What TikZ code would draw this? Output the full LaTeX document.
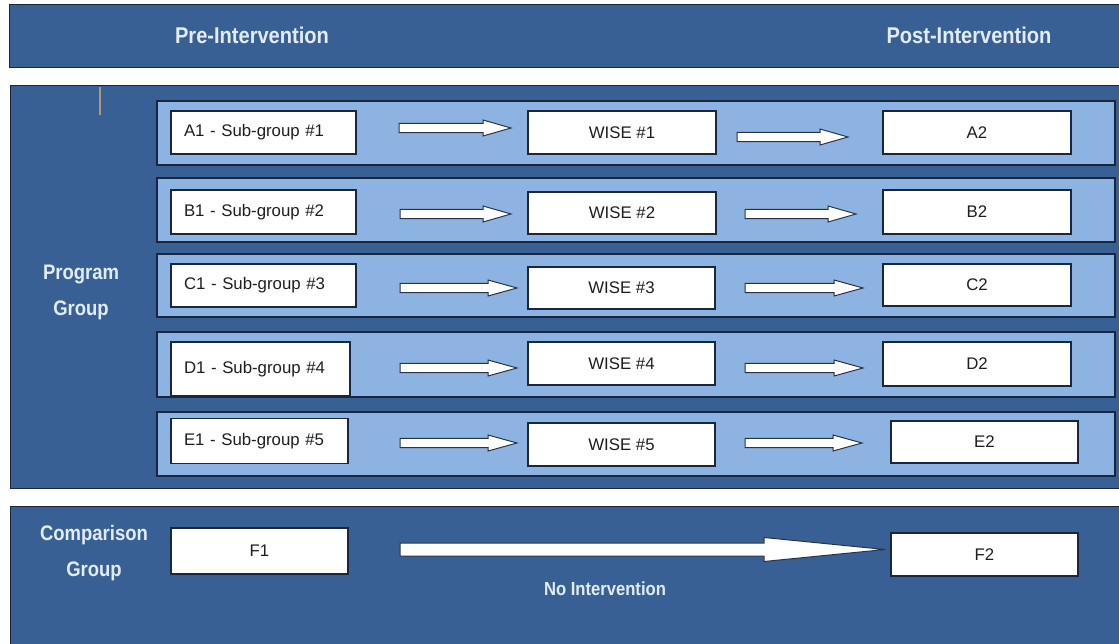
\documentclass[tikz,border=0pt]{standalone}
\usepackage{fontspec}
\setmainfont{Liberation Sans}
\newfontfamily\headfont[FakeStretch=0.88]{Liberation Sans}
\usetikzlibrary{calc}

\definecolor{panelblue}{RGB}{57,96,148}
\definecolor{bandblue}{RGB}{141,179,226}
\definecolor{edgenavy}{RGB}{24,38,62}
\definecolor{headtext}{RGB}{226,236,246}
\definecolor{boxtext}{RGB}{30,30,30}
\definecolor{ticktan}{RGB}{172,152,122}

\tikzset{
  panel/.style={fill=panelblue, draw=edgenavy, line width=1pt},
  band/.style={fill=bandblue, draw=edgenavy, line width=1.2pt},
  wbox/.style={draw=edgenavy, fill=white, line width=1.3pt, text=boxtext,
    inner xsep=13pt, inner ysep=0pt,
    font=\fontsize{16.8}{20}\selectfont},
  lefttext/.style={align=left, text width=#1},
  heading/.style={text=headtext, font=\headfont\bfseries\fontsize{22.8}{26}\selectfont},
  sidelabel/.style={text=headtext, align=center,
    font=\headfont\bfseries\fontsize{21}{36}\selectfont},
  notelabel/.style={text=headtext, font=\headfont\bfseries\fontsize{18.9}{22}\selectfont},
  arrowline/.style={fill=white, draw=edgenavy!85!gray, line width=1pt, line join=miter},
}

% hollow block arrow: start coordinate, tip coordinate,
% half shaft width, half head width, head length (all in pt)
\newcommand\blockarrow[5]{%
  \draw[arrowline] let \p1=(#1), \p2=(#2) in
    (\x1,\y1-#3pt) -- (\x2-#5pt,\y1-#3pt) -- (\x2-#5pt,\y1-#4pt) -- (\x2,\y1)
    -- (\x2-#5pt,\y1+#4pt) -- (\x2-#5pt,\y1+#3pt) -- (\x1,\y1+#3pt) -- cycle;}

\begin{document}
\begin{tikzpicture}[x=1pt, y=-1pt]
\useasboundingbox (0,0) rectangle (1119,644);
\fill[white] (0,0) rectangle (1119,644);

% header bar and the two group panels
\draw[panel] (9,5) rectangle (1125,68);
\draw[panel] (10,86) rectangle (1125,488);
\draw[panel] (10,506) rectangle (1125,650);

\node[heading] (pre) at (252,35) {Pre-Intervention};
\node[heading] (post) at (969,35) {Post-Intervention};

\draw[ticktan, line width=2pt] (100,87) -- (100,115);

% sub-group bands
\draw[band] (157,101) rectangle (1115,165);
\draw[band] (157,178) rectangle (1115,242);
\draw[band] (157,254) rectangle (1115,317);
\draw[band] (157,332) rectangle (1115,397);
\draw[band] (157,412) rectangle (1115,476);

\node[sidelabel] (prog) at (81,292) {Program\\Group};
\node[sidelabel] (comp) at (94,553) {Comparison\\Group};

% pre-intervention boxes
\node[wbox, minimum width=185pt, minimum height=43pt, lefttext=159pt] (A1) at (263.5,132.5) {A1 - Sub-group \#1};
\node[wbox, minimum width=185pt, minimum height=44pt, lefttext=159pt] (B1) at (263.5,212) {B1 - Sub-group \#2};
\node[wbox, minimum width=185pt, minimum height=43pt, lefttext=159pt] (C1) at (263.5,285.5) {C1 - Sub-group \#3};
\node[wbox, minimum width=179pt, minimum height=54pt, lefttext=153pt] (D1) at (260.5,369) {D1 - Sub-group \#4};
\node[wbox, minimum width=177pt, minimum height=45pt, lefttext=151pt] (E1) at (259.5,441) {E1 - Sub-group \#5};
\node[wbox, minimum width=177pt, minimum height=46pt] (F1) at (259.5,551) {F1};

% intervention boxes
\node[wbox, minimum width=188pt, minimum height=43pt] (W1) at (622,132.5) {WISE \#1};
\node[wbox, minimum width=188pt, minimum height=42pt] (W2) at (622,213) {WISE \#2};
\node[wbox, minimum width=187pt, minimum height=42pt] (W3) at (621.5,288) {WISE \#3};
\node[wbox, minimum width=187pt, minimum height=43pt] (W4) at (621.5,363.5) {WISE \#4};
\node[wbox, minimum width=187pt, minimum height=43pt] (W5) at (621.5,444.5) {WISE \#5};

% post-intervention boxes
\node[wbox, minimum width=188pt, minimum height=43pt] (A2) at (977,132.5) {A2};
\node[wbox, minimum width=188pt, minimum height=44pt] (B2) at (977,212) {B2};
\node[wbox, minimum width=188pt, minimum height=42pt] (C2) at (977,285) {C2};
\node[wbox, minimum width=188pt, minimum height=44pt] (D2) at (977,364) {D2};
\node[wbox, minimum width=187pt, minimum height=42pt] (E2) at (984.5,442) {E2};
\node[wbox, minimum width=187pt, minimum height=43pt] (F2) at (984.5,554.5) {F2};

% arrow end points
\coordinate (a1s) at (399,128);  \coordinate (a1e) at (511,128);
\coordinate (a2s) at (737,137);  \coordinate (a2e) at (848,137);
\coordinate (b1s) at (400,214);  \coordinate (b1e) at (511,214);
\coordinate (b2s) at (745,214);  \coordinate (b2e) at (856,214);
\coordinate (c1s) at (400,288);  \coordinate (c1e) at (517,288);
\coordinate (c2s) at (745,288);  \coordinate (c2e) at (863,288);
\coordinate (d1s) at (400,368);  \coordinate (d1e) at (517,368);
\coordinate (d2s) at (745,368);  \coordinate (d2e) at (863,368);
\coordinate (e1s) at (400,443);  \coordinate (e1e) at (517,443);
\coordinate (e2s) at (745,443);  \coordinate (e2e) at (862,443);
\coordinate (fs) at (400,549.5); \coordinate (fe) at (885,549.5);

\blockarrow{a1s}{a1e}{4.7}{8}{28}
\blockarrow{a2s}{a2e}{4.7}{8}{28}
\blockarrow{b1s}{b1e}{4.7}{8}{28}
\blockarrow{b2s}{b2e}{4.7}{8}{28}
\blockarrow{c1s}{c1e}{4.7}{8}{29}
\blockarrow{c2s}{c2e}{4.7}{8}{29}
\blockarrow{d1s}{d1e}{4.7}{8}{29}
\blockarrow{d2s}{d2e}{4.7}{8}{29}
\blockarrow{e1s}{e1e}{4.7}{8}{29}
\blockarrow{e2s}{e2e}{4.7}{8}{29}
\blockarrow{fs}{fe}{6.5}{12}{121}

\node[notelabel] (noint) at (605,589) {No Intervention};
\end{tikzpicture}
\end{document}
